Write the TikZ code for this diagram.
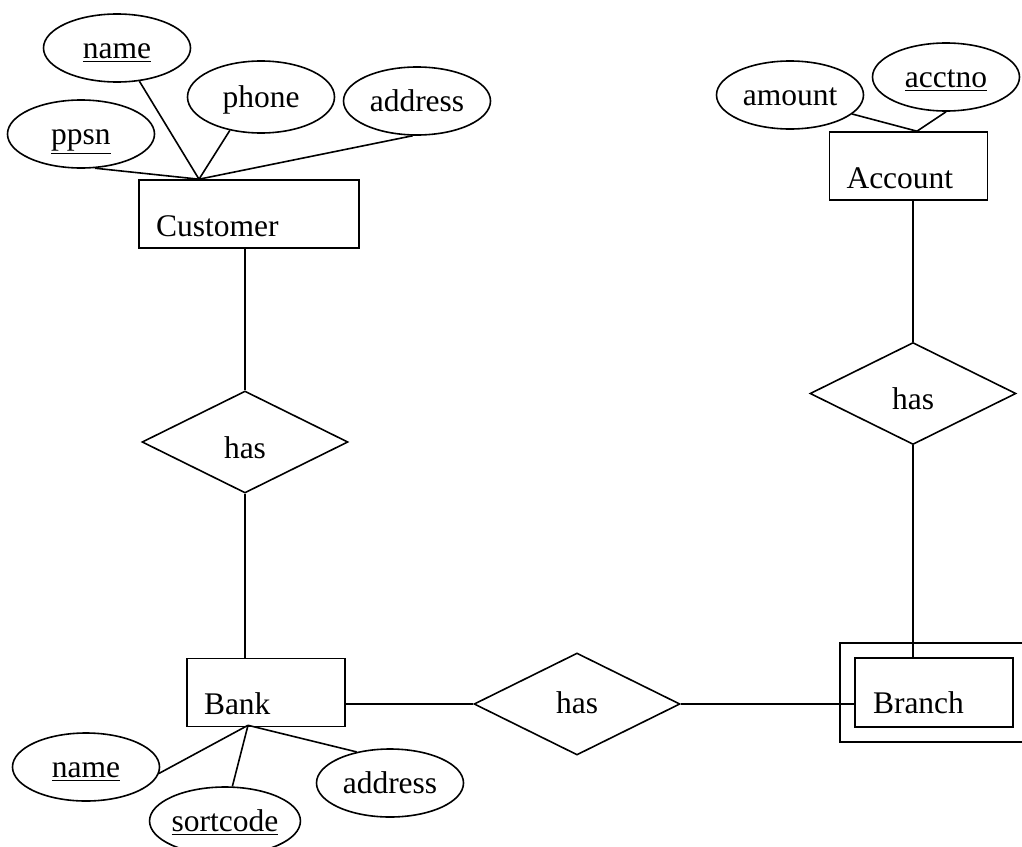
\documentclass[tikz,border=0pt]{standalone}
\usepackage{fontspec}
\setmainfont{Liberation Serif}
\usetikzlibrary{shapes.geometric,fit,calc}

\begin{document}
\begin{tikzpicture}[x=0.5pt,y=-0.5pt,-,thick,font=\fontsize{15.75}{18}\selectfont,
                    entity/.style={draw,rectangle,inner xsep=8.5pt,inner ysep=0pt,align=left,text width=62pt,text height=28pt,text depth=6pt},
                    relation/.style={draw,diamond,inner sep=0pt,minimum width=103pt,minimum height=51pt,text height=16pt,text depth=0pt},
                    attr/.style={draw,ellipse,inner sep=0pt,minimum width=73.5pt,minimum height=34pt,text height=11pt,text depth=1pt}]
                    \useasboundingbox (0,0) rectangle (1022,846);

                    \node[entity, text width=93pt] (customer) at (249,214) {Customer};
                    \node[entity] (account) at (908.5,166) {Account};
                    \node[entity] (bank) at (266,692.5) {Bank};
                    \node[entity, text width=61pt, inner xsep=9pt, text depth=7pt, text height=27.5pt] (branch) at (934,692.5) {Branch};
                    \node[draw, fit=(branch), inner sep=7pt] (branchouter) {};

                    \node[relation] (hascust) at (245,442) {has};
                    \node[relation] (hasacct) at (913,393.5) {has};
                    \node[relation, text height=9pt] (hasbank) at (577,704) {has};

                    \node[attr] (cname) at (117,48) {\underline{name}};
                    \node[attr, minimum height=36pt] (cphone) at (261,97) {phone};
                    \node[attr] (caddress) at (417,101) {address};
                    \node[attr] (cppsn) at (81,134) {\underline{ppsn}};

                    \node[attr] (aamount) at (790,95) {amount};
                    \node[attr] (aacctno) at (946,77) {\underline{acctno}};

                    \node[attr] (bname) at (86,767) {\underline{name}};
                    \node[attr] (bsortcode) at (225,821) {\underline{sortcode}};
                    \node[attr] (baddress) at (390,783) {address};

                    \coordinate (ctop) at ($(customer.north)+(-50,0)$);
                    \coordinate (atop) at ($(account.north)+(8.5,0)$);
                    \coordinate (bbot) at ($(bank.south)+(-18,-2)$);

                    \path[draw]
                        (cname.-56) edge (ctop)
                        (cphone.227) edge (ctop)
                        (caddress.-97) edge (ctop)
                        (cppsn.-68) edge (ctop)

                        (aamount.-17) edge (atop)
                        (aacctno.south) edge (atop)

                        (bname.-5) edge (bbot)
                        (bsortcode.78) edge (bbot)
                        (baddress.137) edge (bbot)

                        (hascust.north) edge (hascust.north |- customer.south)
                        (hascust.south) edge (hascust.south |- bank.north)
                        (hasacct.north) edge (hasacct.north |- account.south)
                        (hasacct.south) edge (hasacct.south |- branch.north)
                        (hasbank.west) edge (hasbank.west -| bank.east)
                        (hasbank.east) edge (hasbank.east -| branch.west)
                        ;
\end{tikzpicture}
\end{document}
